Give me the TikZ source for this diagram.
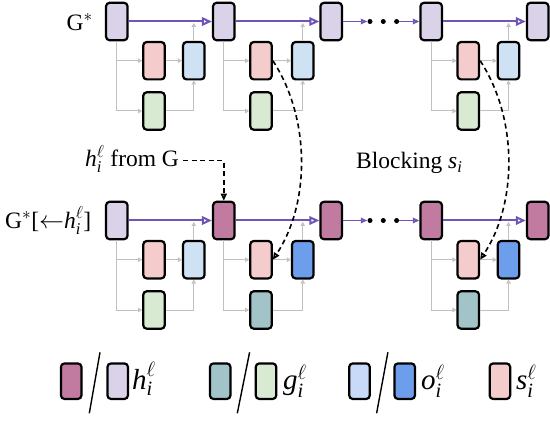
\documentclass[tikz,border=0pt]{standalone}
\usepackage{amsmath}
\usepackage{fontspec}
\setmainfont{Liberation Serif}
\usetikzlibrary{arrows.meta,calc}
\definecolor{lav}{HTML}{D9D2E9}
\definecolor{mag}{HTML}{C27BA0}
\definecolor{pinkc}{HTML}{F4CCCC}
\definecolor{lblue}{HTML}{CFE2F3}
\definecolor{lbluelg}{HTML}{C9DAF8}
\definecolor{dblue}{HTML}{6D9EEB}
\definecolor{lgreen}{HTML}{D9EAD3}
\definecolor{tealc}{HTML}{A2C4C9}
\definecolor{purp}{RGB}{112,84,182}
\definecolor{grayl}{RGB}{192,192,192}
\newcommand{\iv}[1]{\textit{#1}}
\newcommand{\hvar}{\ensuremath{\iv{h}^{\ell}_{\iv{i}}}}
\begin{document}
\begin{tikzpicture}[x=1pt,y=-1pt,
  bx/.style={draw=black, line width=2.2pt, rounded corners=3.5pt, minimum width=21.5pt, minimum height=37.4pt, inner sep=0pt},
  lbx/.style={draw=black, line width=2.2pt, rounded corners=3.5pt, minimum width=20.5pt, minimum height=35.5pt, inner sep=0pt},
  gl/.style={draw=grayl, line width=1pt, -{Triangle[open,length=4pt,width=4.5pt]}},
  pl/.style={draw=purp, line width=2pt, -{Triangle[open,length=10pt,width=8.5pt]}},
  pls/.style={draw=purp, line width=1.6pt, -{Triangle[open,length=6.5pt,width=5.5pt]}},
  dl/.style={draw=black, line width=1.6pt, dash pattern=on 5pt off 3.5pt, -{Triangle[open,length=7pt,width=6pt]}},
  dot/.style={circle, fill=black, inner sep=0pt, minimum size=5pt},
  lbl/.style={font=\fontsize{23.5}{27}\selectfont, inner sep=0pt},
  leg/.style={font=\fontsize{29}{33}\selectfont, inner sep=0pt}
]
\useasboundingbox (0,0) rectangle (550,444);

% ---------- top row ----------
\node[bx,fill=lav] (h1) at (116.8,21.5) {};
\node[bx,fill=lav] (h2) at (223.8,21.5) {};
\node[bx,fill=lav] (h3) at (331.2,21.5) {};
\node[bx,fill=lav] (h4) at (431.2,21.5) {};
\node[bx,fill=lav] (h5) at (537.7,21.5) {};
\node[bx,fill=pinkc]  (s1) at (154,60.7) {};
\node[bx,fill=lblue]  (o1) at (193.8,60.7) {};
\node[bx,fill=lgreen] (g1) at (154,111) {};
\node[bx,fill=pinkc]  (s2) at (261,60.7) {};
\node[bx,fill=lblue]  (o2) at (302.8,60.7) {};
\node[bx,fill=lgreen] (g2) at (261,111) {};
\node[bx,fill=pinkc]  (s4) at (468.3,60.7) {};
\node[bx,fill=lblue]  (o4) at (508.5,60.7) {};
\node[bx,fill=lgreen] (g4) at (468.3,111) {};
\node[dot] (d1) at (370,21.5) {};
\node[dot] (d2) at (383.3,21.5) {};
\node[dot] (d3) at (396.6,21.5) {};

% ---------- bottom row ----------
\node[bx,fill=lav] (b1) at (116.8,220.5) {};
\node[bx,fill=mag] (b2) at (223.8,220.5) {};
\node[bx,fill=mag] (b3) at (331.2,220.5) {};
\node[bx,fill=mag] (b4) at (431.2,220.5) {};
\node[bx,fill=mag] (b5) at (537.7,220.5) {};
\node[bx,fill=pinkc]  (bs1) at (154,259.7) {};
\node[bx,fill=lblue]  (bo1) at (193.8,259.7) {};
\node[bx,fill=lgreen] (bg1) at (154,310) {};
\node[bx,fill=pinkc]  (bs2) at (261,259.7) {};
\node[bx,fill=dblue]  (bo2) at (302.8,259.7) {};
\node[bx,fill=tealc]  (bg2) at (261,310) {};
\node[bx,fill=pinkc]  (bs4) at (468.3,259.7) {};
\node[bx,fill=dblue]  (bo4) at (508.5,259.7) {};
\node[bx,fill=tealc]  (bg4) at (468.3,310) {};
\node[dot] (e1) at (370,220.5) {};
\node[dot] (e2) at (383.3,220.5) {};
\node[dot] (e3) at (396.6,220.5) {};

% ---------- gray internal wiring ----------
\foreach \h/\s/\o/\g in {h1/s1/o1/g1,h2/s2/o2/g2,h4/s4/o4/g4,b1/bs1/bo1/bg1,b2/bs2/bo2/bg2,b4/bs4/bo4/bg4}{
  \draw[gl] (\h.south) |- (\g.west);
  \draw[gl] (\h.south |- \s.west) -- (\s.west);
  \draw[gl] (\s.east) -- (\o.west);
  \draw[gl] (\g.east) -| (\o.south);
  \draw[gl, shorten >=1.5pt] (\o.north) -- (\o.north |- \h.east);
}

% ---------- purple chains ----------
\draw[pl] (h1.east) -- (h2.west);
\draw[pl] (h2.east) -- (h3.west);
\draw[pls] (h3.east) -- (d1.west);
\draw[pls] (d3.east) -- (h4.west);
\draw[pl] (h4.east) -- (h5.west);
\draw[pl] (b1.east) -- (b2.west);
\draw[pl] (b2.east) -- (b3.west);
\draw[pls] (b3.east) -- (e1.west);
\draw[pls] (e3.east) -- (b4.west);
\draw[pl] (b4.east) -- (b5.west);

% ---------- labels ----------
\node[lbl, anchor=base east] (tG) at (93,31) {G$^{*}$};
\node[lbl, anchor=base west] (tGb) at (5,228.3) {G$^{*}$[$\leftarrow$\hvar]};
\node[lbl, anchor=base west] (tH) at (85,166.7) {\hvar{} from G};
\node[lbl, anchor=base west] (tB) at (356,168.3) {Blocking \iv{s}$_{\iv{i}}$};

% ---------- dashed connectors ----------
\coordinate (ds) at ($(tH.base east)+(4,-6)$);
\draw[dl] (ds) -| (b2.north);
\draw[dl] (s2.east) .. controls (310.5,118) and (310.5,203) .. (bs2.east);
\draw[dl] (s4.east) .. controls (517.8,118) and (517.8,203) .. (bs4.east);

% ---------- legend ----------
\node[lbx,fill=mag]     (lm) at (71.2,381.2) {};
\node[lbx,fill=lav]     (ll) at (117.7,381.2) {};
\node[lbx,fill=tealc]   (lt) at (220.2,381.2) {};
\node[lbx,fill=lgreen]  (lg) at (266,381.2) {};
\node[lbx,fill=lbluelg] (lb) at (359.5,381.2) {};
\node[lbx,fill=dblue]   (ld) at (404.7,381.2) {};
\node[lbx,fill=pinkc]   (lp) at (499.9,381.2) {};
\draw[line width=1.4pt] (89.3,413.3) -- (100,352.3);
\draw[line width=1.4pt] (237.3,413.3) -- (249.6,352.3);
\draw[line width=1.4pt] (376.6,413.3) -- (387.9,352.3);
\node[leg, anchor=base west] (lh) at (132,389) {\hvar};
\node[leg, anchor=base west] (lgl) at (283,389) {\ensuremath{\iv{g}^{\ell}_{\iv{i}}}};
\node[leg, anchor=base west] (lol) at (421,389) {\ensuremath{\iv{o}^{\ell}_{\iv{i}}}};
\node[leg, anchor=base west] (lsl) at (516,389) {\ensuremath{\iv{s}^{\ell}_{\iv{i}}}};
\end{tikzpicture}
\end{document}
